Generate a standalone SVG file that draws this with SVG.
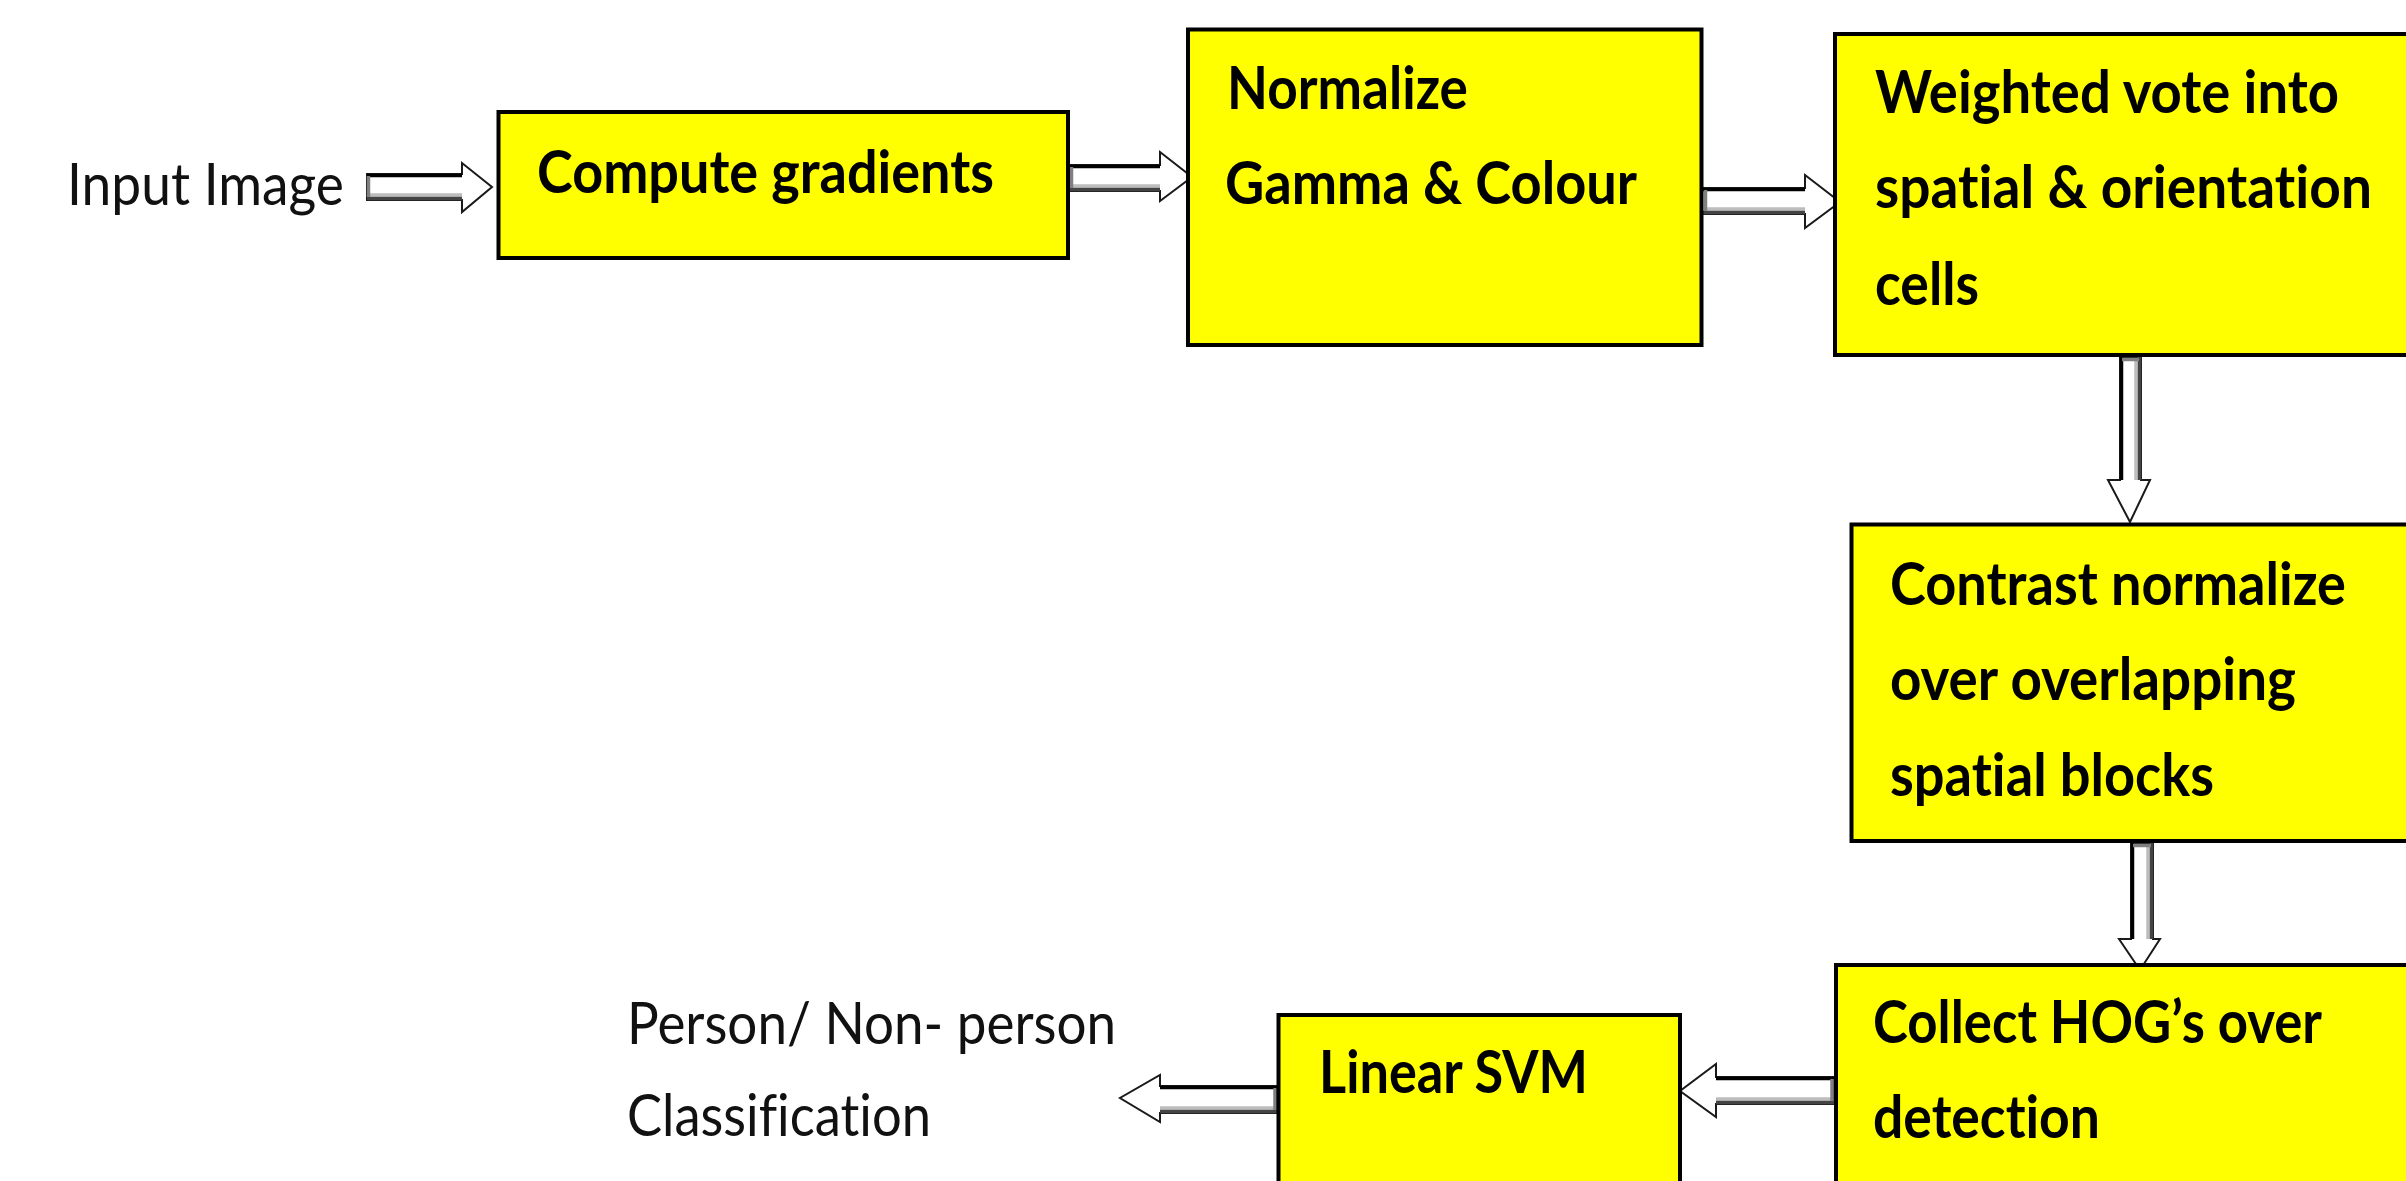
<svg xmlns="http://www.w3.org/2000/svg" width="2406" height="1181" viewBox="0 0 2406 1181">
<style>
.box{fill:#ffff00;stroke:#000;stroke-width:4}
.bt{font-family:Lato,"Open Sans","Liberation Sans",sans-serif;font-weight:bold;font-size:59px;fill:#000;font-variant-ligatures:none;font-feature-settings:"liga" 0,"clig" 0,"dlig" 0}
.rt{font-family:Lato,"Open Sans","Liberation Sans",sans-serif;font-weight:normal;font-size:58px;fill:#111;font-variant-ligatures:none;font-feature-settings:"liga" 0,"clig" 0,"dlig" 0}
.ar{fill:#fff;stroke:#1a1a1a;stroke-width:2;stroke-linejoin:miter}
.edge{stroke:#000;stroke-width:3.5;fill:none}
.dk{stroke:#444;stroke-width:3.5;fill:none}
.lt{stroke:#bdbdbd;stroke-width:3.5;fill:none}
.gy{stroke:#808080;stroke-width:3.5;fill:none}
</style>
<rect width="2406" height="1181" fill="#fff"/>
<g id="connectors">
  <g id="c-input-a">
    <polygon class="ar" points="367,174 462,174 462,163 492,187 462,212 462,200 367,200"/>
    <line class="edge" x1="367" y1="175.5" x2="462" y2="175.5"/>
    <line class="lt" x1="369" y1="195" x2="462" y2="195"/>
    <line class="dk" x1="367" y1="198.5" x2="462" y2="198.5"/>
    <line class="gy" x1="368.5" y1="176" x2="368.5" y2="197"/>
  </g>
  <g id="c-a-b">
    <polygon class="ar" points="1068,165 1160,165 1160,152 1192,177 1160,201 1160,191 1068,191"/>
    <line class="edge" x1="1068" y1="166.5" x2="1160" y2="166.5"/>
    <line class="lt" x1="1070" y1="186" x2="1160" y2="186"/>
    <line class="dk" x1="1068" y1="189.5" x2="1160" y2="189.5"/>
    <line class="gy" x1="1071.5" y1="167" x2="1071.5" y2="188"/>
  </g>
  <g id="c-b-c">
    <polygon class="ar" points="1702,188 1805,188 1805,175 1840,202 1805,228 1805,214 1702,214"/>
    <line class="edge" x1="1702" y1="189.5" x2="1805" y2="189.5"/>
    <line class="lt" x1="1704" y1="209" x2="1805" y2="209"/>
    <line class="dk" x1="1702" y1="212.5" x2="1805" y2="212.5"/>
    <line class="gy" x1="1705.5" y1="190" x2="1705.5" y2="211"/>
  </g>
  <g id="c-c-d">
    <polygon class="ar" points="2120,357 2141,357 2141,480 2150,480 2130,522 2108,480 2120,480"/>
    <line class="edge" x1="2121.5" y1="357" x2="2121.5" y2="480"/>
    <line class="lt" x1="2136" y1="360" x2="2136" y2="480"/>
    <line class="dk" x1="2139.5" y1="357" x2="2139.5" y2="480"/>
    <line class="gy" x1="2122" y1="359.5" x2="2139" y2="359.5"/>
  </g>
  <g id="c-d-e">
    <polygon class="ar" points="2131,843 2153,843 2153,939 2160,939 2140,970 2119,939 2131,939"/>
    <line class="edge" x1="2132.5" y1="843" x2="2132.5" y2="939"/>
    <line class="lt" x1="2148" y1="846" x2="2148" y2="939"/>
    <line class="dk" x1="2151.5" y1="843" x2="2151.5" y2="939"/>
    <line class="gy" x1="2133" y1="845.5" x2="2151" y2="845.5"/>
  </g>
  <g id="c-e-f">
    <polygon class="ar" points="1834,1077 1716,1077 1716,1064 1680,1091 1716,1117 1716,1104 1834,1104"/>
    <line class="edge" x1="1716" y1="1078.5" x2="1834" y2="1078.5"/>
    <line class="lt" x1="1716" y1="1099" x2="1832" y2="1099"/>
    <line class="dk" x1="1716" y1="1102.5" x2="1834" y2="1102.5"/>
    <line class="gy" x1="1832" y1="1079" x2="1832" y2="1101"/>
  </g>
  <g id="c-f-out">
    <polygon class="ar" points="1277,1086 1160,1086 1160,1075 1120,1098 1160,1122 1160,1113 1277,1113"/>
    <line class="edge" x1="1160" y1="1087.5" x2="1277" y2="1087.5"/>
    <line class="lt" x1="1160" y1="1108" x2="1275" y2="1108"/>
    <line class="dk" x1="1160" y1="1111.5" x2="1277" y2="1111.5"/>
    <line class="gy" x1="1275" y1="1088" x2="1275" y2="1110"/>
  </g>
</g>
<g id="input">
  <text class="rt" x="67" y="205" textLength="277" lengthAdjust="spacingAndGlyphs">Input Image</text>
</g>
<g id="node-compute-gradients">
  <rect class="box" x="498.5" y="112" width="569.5" height="146"/>
  <text class="bt" x="537" y="193" textLength="457" lengthAdjust="spacingAndGlyphs">Compute gradients</text>
</g>
<g id="node-normalize">
  <rect class="box" x="1188" y="29.5" width="513.5" height="315.5"/>
  <text class="bt" x="1227" y="109" textLength="241" lengthAdjust="spacingAndGlyphs">Normalize</text>
  <text class="bt" x="1225" y="204" textLength="412" lengthAdjust="spacingAndGlyphs">Gamma &amp; Colour</text>
</g>
<g id="node-weighted-vote">
  <rect class="box" x="1835" y="34" width="700" height="321"/>
  <text class="bt" x="1875" y="113" textLength="464" lengthAdjust="spacingAndGlyphs">Weighted vote into</text>
  <text class="bt" x="1875" y="208" textLength="497" lengthAdjust="spacingAndGlyphs">spatial &amp; orientation</text>
  <text class="bt" x="1875" y="305" textLength="104" lengthAdjust="spacingAndGlyphs">cells</text>
</g>
<g id="node-contrast-normalize">
  <rect class="box" x="1851.5" y="524.5" width="700" height="316.5"/>
  <text class="bt" x="1890" y="605" textLength="456" lengthAdjust="spacingAndGlyphs">Contrast normalize</text>
  <text class="bt" x="1890" y="700" textLength="406" lengthAdjust="spacingAndGlyphs">over overlapping</text>
  <text class="bt" x="1890" y="796" textLength="324" lengthAdjust="spacingAndGlyphs">spatial blocks</text>
</g>
<g id="node-collect-hog">
  <rect class="box" x="1836" y="965" width="700" height="300"/>
  <text class="bt" x="1873" y="1043" textLength="449" lengthAdjust="spacingAndGlyphs">Collect HOG’s over</text>
  <text class="bt" x="1873" y="1138" textLength="227" lengthAdjust="spacingAndGlyphs">detection</text>
</g>
<g id="node-linear-svm">
  <rect class="box" x="1278.5" y="1015" width="401.5" height="250"/>
  <text class="bt" x="1319" y="1093" textLength="269" lengthAdjust="spacingAndGlyphs">Linear SVM</text>
</g>
<g id="output">
  <text class="rt" x="627" y="1044" textLength="489" lengthAdjust="spacingAndGlyphs">Person/ Non- person</text>
  <text class="rt" x="627" y="1136" textLength="304" lengthAdjust="spacingAndGlyphs">Classification</text>
</g>
</svg>
